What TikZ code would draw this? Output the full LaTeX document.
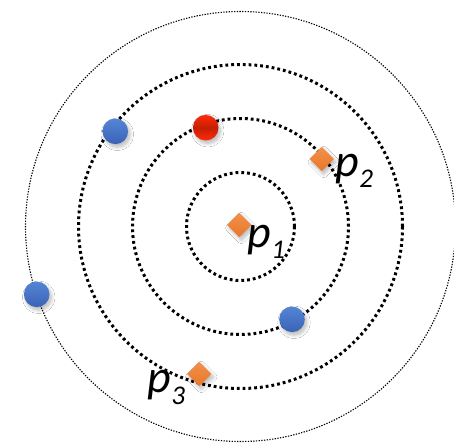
\documentclass[tikz,border=0pt]{standalone}
\usepackage{fontspec}
\setmainfont{Carlito}
\usetikzlibrary{shapes.geometric,shadows.blur}
\definecolor{bluetop}{HTML}{5585D6}
\definecolor{bluebot}{HTML}{3A63B6}
\definecolor{redtop}{HTML}{FF2C0C}
\definecolor{redmid}{HTML}{C41E00}
\definecolor{orangetop}{HTML}{F2914A}
\definecolor{orangebot}{HTML}{E8762A}
\newcommand{\plabel}[1]{{\fontsize{46}{46}\selectfont\itshape p}\kern0.5pt\raisebox{-11.5pt}{\fontsize{27}{27}\selectfont\itshape #1}}
\begin{document}
\begin{tikzpicture}[x=1pt,y=-1pt,
  orbit/.style={draw=black, line width=3pt, dash pattern=on 2.8pt off 3pt},
  farorbit/.style={draw=black, line width=1.1pt, dash pattern=on 1.3pt off 1.4pt},
  softshadow/.style={blur shadow={shadow xshift=2pt, shadow yshift=-3pt, shadow blur steps=10, shadow opacity=28, shadow blur radius=3.5pt}},
  ball/.style={circle, minimum size=25.6pt, inner sep=0pt, softshadow},
  blueball/.style={ball, top color=bluetop, bottom color=bluebot},
  redball/.style={ball, top color=redtop, bottom color=redtop, middle color=redmid},
  pt/.style={diamond, minimum width=24.5pt, minimum height=24.5pt, inner sep=0pt, aspect=1,
    top color=orangetop, bottom color=orangebot, softshadow},
  lbl/.style={inner sep=0pt, anchor=base west}]
\useasboundingbox (0,0) rectangle (454,442);
\clip (0,0) rectangle (454,442);
\fill[white] (0,0) rectangle (454,442);
\coordinate (c) at (240.5,226.5);
\draw[farorbit] (c) circle[radius=215pt];
\draw[orbit] (c) circle[radius=54pt];
\draw[orbit] (c) circle[radius=108pt];
\draw[orbit] (c) circle[radius=162pt];
\node[blueball] (b1) at (115.3,131.3) {};
\node[redball] (r1) at (205.7,127.7) {};
\node[blueball] (b2) at (36.7,294.3) {};
\node[blueball] (b3) at (292,319.3) {};
\node[pt] (p1) at (239.3,225) {};
\node[pt] (p2) at (321.7,159) {};
\node[pt] (p3) at (199.3,374) {};
\node[lbl] (l1) at (247,247) {\plabel{1}};
\node[lbl] (l2) at (335,176) {\plabel{2}};
\node[lbl] (l3) at (147,392.5) {\plabel{3}};
\end{tikzpicture}
\end{document}
